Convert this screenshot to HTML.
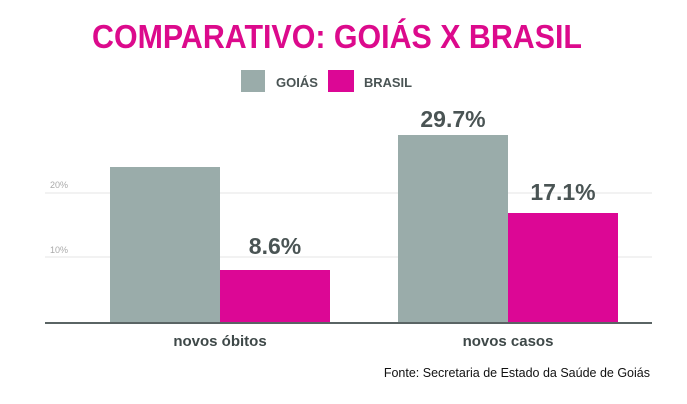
<!DOCTYPE html>
<html><head><style>
body{margin:0;background:#fff;}
</style></head><body>
<svg width="687" height="404" xmlns="http://www.w3.org/2000/svg" style="display:block">
<rect width="687" height="404" fill="#fff"/>
<text x="337" y="48" text-anchor="middle" font-family="Liberation Sans, sans-serif" font-weight="bold" font-size="33" fill="#dc0a8c" textLength="490" lengthAdjust="spacingAndGlyphs">COMPARATIVO: GOIÁS X BRASIL</text>
<rect x="241" y="70" width="24" height="22" fill="#9aacaa"/>
<text x="276" y="87" font-family="Liberation Sans, sans-serif" font-weight="bold" font-size="13" fill="#4a5454" textLength="42" lengthAdjust="spacingAndGlyphs">GOIÁS</text>
<rect x="328" y="70" width="26" height="22" fill="#dc0795"/>
<text x="364" y="87" font-family="Liberation Sans, sans-serif" font-weight="bold" font-size="13" fill="#4a5454" textLength="48" lengthAdjust="spacingAndGlyphs">BRASIL</text>
<line x1="45" y1="193" x2="652" y2="193" stroke="#e6e6e6" stroke-width="1"/>
<line x1="45" y1="257" x2="652" y2="257" stroke="#e6e6e6" stroke-width="1"/>
<text x="50" y="188" font-family="Liberation Sans, sans-serif" font-size="9" fill="#aaa">20%</text>
<text x="50" y="253" font-family="Liberation Sans, sans-serif" font-size="9" fill="#aaa">10%</text>
<rect x="110" y="167" width="110" height="156" fill="#9aacaa"/>
<rect x="220" y="270" width="110" height="53" fill="#dc0795"/>
<rect x="398" y="135" width="110" height="188" fill="#9aacaa"/>
<rect x="508" y="213" width="110" height="110" fill="#dc0795"/>
<line x1="45" y1="323" x2="652" y2="323" stroke="#5a6464" stroke-width="2"/>
<g font-family="Liberation Sans, sans-serif" font-weight="bold" font-size="23" fill="#4a5454" text-anchor="middle">
<text x="275" y="254">8.6%</text>
<text x="453" y="127">29.7%</text>
<text x="563" y="200">17.1%</text>
</g>
<g font-family="Liberation Sans, sans-serif" font-weight="bold" font-size="15" fill="#3e4848" text-anchor="middle">
<text x="220" y="346">novos óbitos</text>
<text x="508" y="346">novos casos</text>
</g>
<text x="650" y="377" text-anchor="end" font-family="Liberation Sans, sans-serif" font-size="12.5" fill="#111">Fonte: Secretaria de Estado da Saúde de Goiás</text>
</svg>
</body></html>
